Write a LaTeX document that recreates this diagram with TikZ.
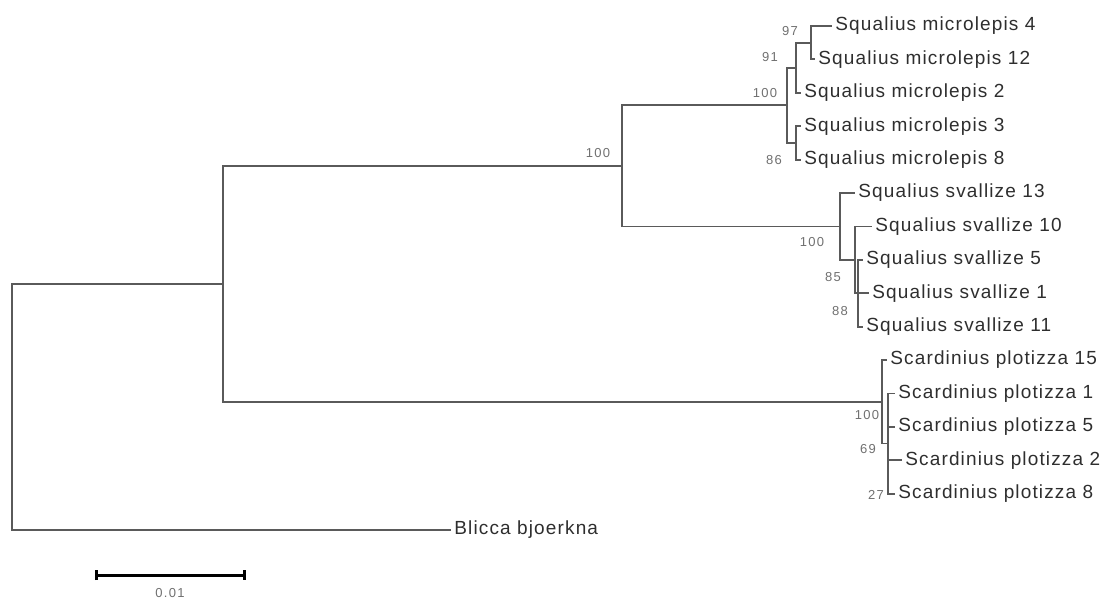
\documentclass[tikz,border=0pt]{standalone}
\usepackage{fontspec}
\usepackage{tikz}
\usetikzlibrary{arrows.meta}
\usepackage{xcolor}
\definecolor{branchgray}{HTML}{5A5A5A}
\definecolor{leafgray}{HTML}{2E2E2E}
\definecolor{bootgray}{HTML}{707070}
\newfontfamily\leaffont{Liberation Sans}[LetterSpace=6]
\newfontfamily\bootfont{Liberation Sans}[LetterSpace=10]

\begin{document}
\begin{tikzpicture}[
        x=0.5pt, y=-0.5pt,
        branch/.style={line width=0.9pt, branchgray},
        leaf/.style={anchor=west, inner xsep=1.5pt, inner ysep=0pt, text=leafgray,
                     font={\leaffont\fontsize{9.5}{11}\selectfont}},
        boot/.style={inner sep=0pt, text=bootgray, font={\bootfont\fontsize{6.5}{7}\selectfont}},
        scalebar/.style={line width=1.5pt, black, {Bar[width=5pt]}-{Bar[width=5pt]}},
      ]
      \useasboundingbox (0,0) rectangle (1106,599);

      % internal nodes
      \coordinate (root)     at (12,406.9);
      \coordinate (ingroup)  at (223,283.8);
      \coordinate (squalius) at (622,165.9);
      \coordinate (micro)    at (787,105.3);
      \coordinate (micro91)  at (796,67.7);
      \coordinate (micro97)  at (811,42.7);
      \coordinate (micro86)  at (796,142.9);
      \coordinate (sval)     at (840,226.4);
      \coordinate (sval85)   at (855,259.8);
      \coordinate (sval88)   at (858,293.2);
      \coordinate (scard)    at (882,401.8);
      \coordinate (scard69)  at (888,443.5);

      % leaves
      \node[leaf] (m4)  at (832,26)    {Squalius microlepis 4};
      \node[leaf] (m12) at (815,59.4)  {Squalius microlepis 12};
      \node[leaf] (m2)  at (801,92.8)  {Squalius microlepis 2};
      \node[leaf] (m3)  at (801,126.2) {Squalius microlepis 3};
      \node[leaf] (m8)  at (801,159.6) {Squalius microlepis 8};
      \node[leaf] (s13) at (855,193)   {Squalius svallize 13};
      \node[leaf] (s10) at (872,226.4) {Squalius svallize 10};
      \node[leaf] (s5)  at (863,259.8) {Squalius svallize 5};
      \node[leaf] (s1)  at (869,293.2) {Squalius svallize 1};
      \node[leaf] (s11) at (863,326.6) {Squalius svallize 11};
      \node[leaf] (p15) at (887,360)   {Scardinius plotizza 15};
      \node[leaf] (p1)  at (895,393.4) {Scardinius plotizza 1};
      \node[leaf] (p5)  at (895,426.8) {Scardinius plotizza 5};
      \node[leaf] (p2)  at (902,460.2) {Scardinius plotizza 2};
      \node[leaf] (p8)  at (895,493.6) {Scardinius plotizza 8};
      \node[leaf] (bb)  at (451,530)   {Blicca bjoerkna};

      % bootstrap values
      \node[boot] (b97)  at (790,31)  {97};
      \node[boot] (b91)  at (770,57)  {91};
      \node[boot] (b100m) at (765,93) {100};
      \node[boot] (b86)  at (774,160) {86};
      \node[boot] (b100a) at (598,153) {100};
      \node[boot] (b100s) at (812,242) {100};
      \node[boot] (b85)  at (833,277) {85};
      \node[boot] (b88)  at (840,311) {88};
      \node[boot] (b100p) at (867,415) {100};
      \node[boot] (b69)  at (868,449) {69};
      \node[boot] (b27)  at (876,495) {27};

      % branches
      \draw[branch] (root) |- (ingroup);
      \draw[branch] (root) |- (bb.west);
      \draw[branch] (ingroup) |- (squalius);
      \draw[branch] (ingroup) |- (scard);
      \draw[branch] (squalius) |- (micro);
      \draw[branch] (squalius) |- (sval);
      \draw[branch] (micro) |- (micro91);
      \draw[branch] (micro) |- (micro86);
      \draw[branch] (micro91) |- (micro97);
      \draw[branch] (micro91) |- (m2.west);
      \draw[branch] (micro97) |- (m4.west);
      \draw[branch] (micro97) |- (m12.west);
      \draw[branch] (micro86) |- (m3.west);
      \draw[branch] (micro86) |- (m8.west);
      \draw[branch] (sval) |- (s13.west);
      \draw[branch] (sval) |- (sval85);
      \draw[branch] (sval85) |- (s10.west);
      \draw[branch] (sval85) |- (sval88);
      \draw[branch] (sval88) |- (s5.west);
      \draw[branch] (sval88) |- (s1.west);
      \draw[branch] (sval88) |- (s11.west);
      \draw[branch] (scard) |- (p15.west);
      \draw[branch] (scard) |- (scard69);
      \draw[branch] (scard69) |- (p1.west);
      \draw[branch] (scard69) |- (p5.west);
      \draw[branch] (scard69) |- (p2.west);
      \draw[branch] (scard69) |- (p8.west);

      % scale bar
      \coordinate (sb0) at (95,575);
      \coordinate (sb1) at (246,575);
      \draw[scalebar] (sb0) -- (sb1);
      \node[boot] (sbl) at (170,593) {0.01};
    \end{tikzpicture}
\end{document}
